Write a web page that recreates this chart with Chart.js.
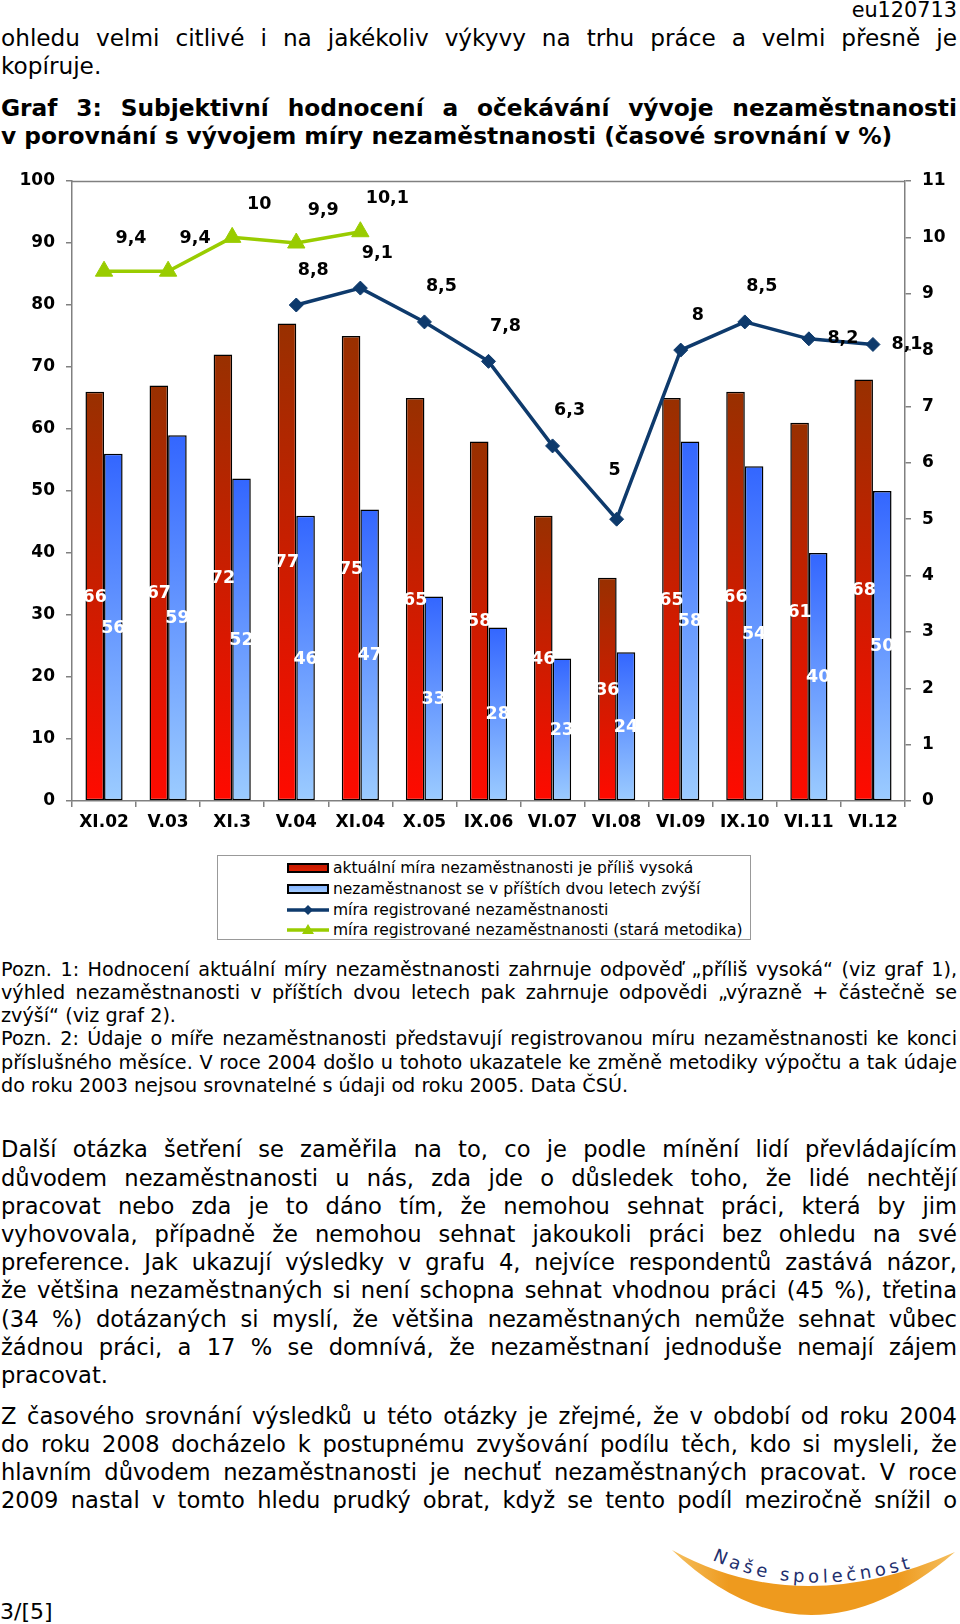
<!DOCTYPE html>
<html><head><meta charset="utf-8">
<script src="https://cdn.jsdelivr.net/npm/chart.js@4.4.1/dist/chart.umd.min.js"></script>
<style>
html,body{margin:0;padding:0;background:#fff;}
body{width:960px;height:1624px;position:relative;overflow:hidden;font-family:"DejaVu Sans",Verdana,sans-serif;color:#000;}
.blk{position:absolute;left:1px;width:956px;}
.ln{white-space:nowrap;text-align:justify;text-align-last:justify;}
.ln.l{text-align:left;text-align-last:left;}
.p22{font-size:22.6px;line-height:28.2px;}
.t22{font-size:23.3px;line-height:28px;font-weight:bold;}
.n18{font-size:19.2px;line-height:23.2px;}
#legend{position:absolute;left:217px;top:855px;width:534px;height:85px;border:1px solid #999;box-sizing:border-box;}
.lrow{position:absolute;left:0;height:20px;width:100%;font-size:15.5px;line-height:20px;}
.lrow svg{position:absolute;left:69px;top:2px;}
.lrow span{position:absolute;left:115px;top:0;white-space:nowrap;}
</style>
</head>
<body>
<div style="position:absolute;right:3px;top:-2px;font-size:20.8px;line-height:24px;">eu120713</div>
<div class="blk" style="top:24px;font-size:23.2px;line-height:28px;">
<div class="ln">ohledu velmi citlivé i na jakékoliv výkyvy na trhu práce a velmi přesně je</div>
<div class="ln l">kopíruje.</div>
</div>
<div class="blk t22" style="top:93.7px;">
<div class="ln">Graf 3: Subjektivní hodnocení a očekávání vývoje nezaměstnanosti</div>
<div class="ln l">v porovnání s vývojem míry nezaměstnanosti (časové srovnání v %)</div>
</div>

<canvas id="c" width="960" height="700" style="position:absolute;left:0;top:150px;"></canvas>
<div id="legend"></div>

<div class="blk n18" style="top:957.7px;">
<div class="ln">Pozn. 1: Hodnocení aktuální míry nezaměstnanosti zahrnuje odpověď „příliš vysoká“ (viz graf 1),</div>
<div class="ln">výhled nezaměstnanosti v příštích dvou letech pak zahrnuje odpovědi „výrazně + částečně se</div>
<div class="ln l">zvýší“ (viz graf 2).</div>
<div class="ln">Pozn. 2: Údaje o míře nezaměstnanosti představují registrovanou míru nezaměstnanosti ke konci</div>
<div class="ln">příslušného měsíce. V roce 2004 došlo u tohoto ukazatele ke změně metodiky výpočtu a tak údaje</div>
<div class="ln l">do roku 2003 nejsou srovnatelné s údaji od roku 2005. Data ČSÚ.</div>
</div>

<div class="blk p22" style="top:1135.4px;">
<div class="ln">Další otázka šetření se zaměřila na to, co je podle mínění lidí převládajícím</div>
<div class="ln">důvodem nezaměstnanosti u nás, zda jde o důsledek toho, že lidé nechtějí</div>
<div class="ln">pracovat nebo zda je to dáno tím, že nemohou sehnat práci, která by jim</div>
<div class="ln">vyhovovala, případně že nemohou sehnat jakoukoli práci bez ohledu na své</div>
<div class="ln">preference. Jak ukazují výsledky v grafu 4, nejvíce respondentů zastává názor,</div>
<div class="ln">že většina nezaměstnaných si není schopna sehnat vhodnou práci (45 %), třetina</div>
<div class="ln">(34 %) dotázaných si myslí, že většina nezaměstnaných nemůže sehnat vůbec</div>
<div class="ln">žádnou práci, a 17 % se domnívá, že nezaměstnaní jednoduše nemají zájem</div>
<div class="ln l">pracovat.</div>
</div>

<div class="blk p22" style="top:1401.6px;">
<div class="ln">Z časového srovnání výsledků u této otázky je zřejmé, že v období od roku 2004</div>
<div class="ln">do roku 2008 docházelo k postupnému zvyšování podílu těch, kdo si mysleli, že</div>
<div class="ln">hlavním důvodem nezaměstnanosti je nechuť nezaměstnaných pracovat. V roce</div>
<div class="ln">2009 nastal v tomto hledu prudký obrat, když se tento podíl meziročně snížil o</div>
</div>

<div style="position:absolute;left:0;top:1598px;font-size:22px;line-height:28px;">3/[5]</div>

<svg style="position:absolute;left:640px;top:1500px;" width="320" height="124" viewBox="0 0 320 124">
  <defs>
    <linearGradient id="og" x1="0" y1="0" x2="1" y2="0">
      <stop offset="0" stop-color="#f5c060"/>
      <stop offset="0.2" stop-color="#ee9a1e"/>
      <stop offset="0.8" stop-color="#ee9a1e"/>
      <stop offset="1" stop-color="#f5c060"/>
    </linearGradient>
    <path id="tp" d="M72,60 Q168,104 290,62"/>
  </defs>
  <path d="M32,50 Q160,121 315,52 Q167,179 32,50 Z" fill="url(#og)"/>
  <text font-family="DejaVu Sans" font-size="18" fill="#1f2f6e" letter-spacing="2">
    <textPath href="#tp" textLength="205" lengthAdjust="spacing">Naše společnost</textPath>
  </text>
</svg>

<script>
const categories = ['XI.02','V.03','XI.3','V.04','XI.04','X.05','IX.06','VI.07','VI.08','VI.09','IX.10','VI.11','VI.12'];
const tooHigh    = [66, 67, 72, 77, 75, 65, 58, 46, 36, 65, 66, 61, 68];
const willRise   = [56, 59, 52, 46, 47, 33, 28, 23, 24, 58, 54, 40, 50];
const rateNew    = [null, null, null, 8.8, 9.1, 8.5, 7.8, 6.3, 5, 8, 8.5, 8.2, 8.1];
const rateOld    = [9.4, 9.4, 10, 9.9, 10.1, null, null, null, null, null, null, null, null];
const seriesNames = [
  'aktuální míra nezaměstnanosti je příliš vysoká',
  'nezaměstnanost se v příštích dvou letech zvýší',
  'míra registrované nezaměstnanosti',
  'míra registrované nezaměstnanosti (stará metodika)'
];
const leftAxis  = {min: 0, max: 100, step: 10};
const rightAxis = {min: 0, max: 11, step: 1};

// label placement styles for the line series (style only)
const newPlacement = [null, null, null, 'ar', 'ar', 'ar', 'ar', 'ar', 'a', 'ar', 'ar', 'r', 'r'];
const oldPlacement = ['ar', 'ar', 'ar', 'ar', 'ar', null, null, null, null, null, null, null, null];

const FONT = '"DejaVu Sans", Verdana, sans-serif';
const navy = '#0e3a6c';
const green = '#99cc00';

function barGradient(ctx, topColor, bottomColor) {
  const chart = ctx.chart;
  if (!chart.chartArea || ctx.type !== 'data' || !chart.scales.y) return bottomColor;
  const ys = chart.scales.y;
  const top = ys.getPixelForValue(ctx.raw);
  const bot = ys.getPixelForValue(0);
  const g = chart.ctx.createLinearGradient(0, top, 0, bot);
  g.addColorStop(0, topColor);
  g.addColorStop(1, bottomColor);
  return g;
}

const framePlugin = {
  id: 'frame',
  beforeDatasetsDraw(chart) {
    const {ctx, chartArea: a} = chart;
    ctx.save();
    ctx.strokeStyle = '#808080';
    ctx.lineWidth = 1.5;
    ctx.beginPath();
    ctx.moveTo(a.left, a.top + 0.5);
    ctx.lineTo(a.right, a.top + 0.5);
    ctx.stroke();
    ctx.restore();
  }
};

const valueLabels = {
  id: 'valueLabels',
  afterDatasetsDraw(chart) {
    const ctx = chart.ctx;
    chart.data.datasets.forEach((ds, i) => {
      const meta = chart.getDatasetMeta(i);
      ctx.save();
      ctx.font = 'bold 17.5px ' + FONT;
      ctx.textAlign = 'center';
      ctx.textBaseline = 'middle';
      meta.data.forEach((el, j) => {
        const v = ds.data[j];
        if (v == null) return;
        const txt = String(v).replace('.', ',');
        if (ds.type === 'bar') {
          ctx.fillStyle = '#fff';
          ctx.fillText(txt, el.x, (el.y + el.base) / 2 + 1);
        } else {
          const p = ds.labelPlacement[j] || 'ar';
          let dx = ds.labelDx, dy = ds.labelDy;
          if (p === 'a') { dx = -2; dy = -49; }
          if (p === 'r') { dx = 34; dy = 0; }
          ctx.fillStyle = '#000';
          ctx.fillText(txt, el.x + dx, el.y + dy);
        }
      });
      ctx.restore();
    });
  }
};

const tickFont = {family: FONT, size: 17, weight: 'bold'};

const chart = new Chart(document.getElementById('c'), {
  data: {
    labels: categories,
    datasets: [
      {
        type: 'bar', label: seriesNames[0], data: tooHigh, yAxisID: 'y', order: 2,
        backgroundColor: c => barGradient(c, '#983000', '#ff0a00'),
        borderColor: '#000', borderWidth: 1.5, borderSkipped: false,
        categoryPercentage: 0.58, barPercentage: 1.0
      },
      {
        type: 'bar', label: seriesNames[1], data: willRise, yAxisID: 'y', order: 2,
        backgroundColor: c => barGradient(c, '#3366ff', '#9cccff'),
        borderColor: '#000', borderWidth: 1.5, borderSkipped: false,
        categoryPercentage: 0.58, barPercentage: 1.0
      },
      {
        type: 'line', label: seriesNames[2], data: rateNew, yAxisID: 'y2', order: 1,
        borderColor: navy, backgroundColor: navy, borderWidth: 3.5,
        pointStyle: 'rectRot', pointRadius: 7, pointBackgroundColor: navy, pointBorderColor: navy, pointBorderWidth: 1,
        tension: 0, spanGaps: false,
        labelPlacement: newPlacement, labelDx: 17, labelDy: -35
      },
      {
        type: 'line', label: seriesNames[3], data: rateOld, yAxisID: 'y2', order: 1,
        borderColor: green, backgroundColor: green, borderWidth: 3.5,
        pointStyle: 'triangle', pointRadius: 10, pointBackgroundColor: green, pointBorderColor: green, pointBorderWidth: 1,
        tension: 0, spanGaps: false,
        labelPlacement: oldPlacement, labelDx: 27, labelDy: -33
      }
    ]
  },
  options: {
    responsive: false,
    animation: false,
    devicePixelRatio: 1,
    layout: {padding: {top: 31, left: 0, right: 0, bottom: 0}},
    plugins: {legend: {display: false}, tooltip: {enabled: false}},
    scales: {
      x: {
        offset: true,
        grid: {display: true, drawOnChartArea: false, offset: true, tickLength: 6, color: '#808080', lineWidth: 1.5},
        border: {display: true, color: '#808080', width: 1.5},
        ticks: {color: '#000', font: tickFont, padding: 5, maxRotation: 0, autoSkip: false},
        afterFit(s) { s.height = 49; }
      },
      y: {
        position: 'left', min: leftAxis.min, max: leftAxis.max,
        grid: {drawOnChartArea: false, tickLength: 6, color: '#808080', lineWidth: 1.5},
        border: {display: true, color: '#808080', width: 1.5},
        ticks: {stepSize: leftAxis.step, color: '#000', font: tickFont, padding: 11},
        afterFit(s) { s.width = 72; }
      },
      y2: {
        position: 'right', min: rightAxis.min, max: rightAxis.max,
        grid: {drawOnChartArea: false, tickLength: 6, color: '#808080', lineWidth: 1.5},
        border: {display: true, color: '#808080', width: 1.5},
        ticks: {stepSize: rightAxis.step, color: '#000', font: tickFont, padding: 11},
        afterFit(s) { s.width = 55; }
      }
    }
  },
  plugins: [framePlugin, valueLabels]
});

// HTML legend built from the chart's datasets
(function buildLegend() {
  const box = document.getElementById('legend');
  const rowTops = [0, 1, 2, 3].map(k => 2 + k * 20.8);
  chart.data.datasets.forEach((ds, k) => {
    const row = document.createElement('div');
    row.className = 'lrow';
    row.style.top = rowTops[k] + 'px';
    let sw;
    if (ds.type === 'bar') {
      const c1 = k === 0 ? '#c01800' : '#7fb0ff';
      const c2 = k === 0 ? '#e02000' : '#a8d0ff';
      sw = `<svg width="42" height="16"><defs><linearGradient id="lg${k}" x1="0" y1="0" x2="0" y2="1"><stop offset="0" stop-color="${c1}"/><stop offset="1" stop-color="${c2}"/></linearGradient></defs><rect x="1" y="4" width="40" height="8" fill="url(#lg${k})" stroke="#000" stroke-width="2"/></svg>`;
    } else {
      const col = ds.borderColor;
      const marker = ds.pointStyle === 'rectRot'
        ? `<polygon points="21,3 26,8 21,13 16,8" fill="${col}"/>`
        : `<polygon points="21,2 27,12 15,12" fill="${col}"/>`;
      sw = `<svg width="42" height="16"><line x1="0" y1="8" x2="42" y2="8" stroke="${col}" stroke-width="3.5"/>${marker}</svg>`;
    }
    row.innerHTML = sw + '<span></span>';
    row.querySelector('span').textContent = ds.label;
    box.appendChild(row);
  });
})();
</script>
</body></html>
